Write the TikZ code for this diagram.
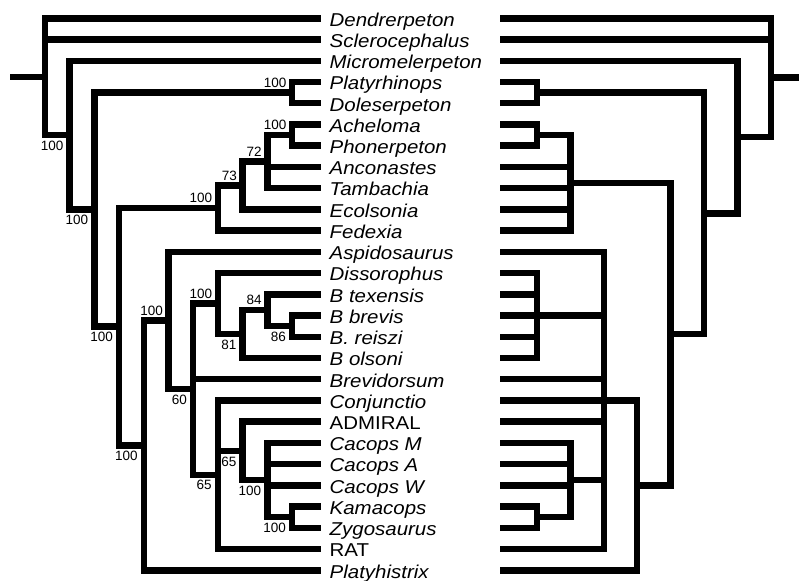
\documentclass[tikz,border=0pt]{standalone}
\usepackage{fontspec}
\setmainfont{Liberation Sans}
\newfontfamily\taxonfont{Liberation Sans}[FakeStretch=1.1]
\usetikzlibrary{positioning}
\tikzset{
  branch/.style={line width=6.5pt, black},
  taxon/.style={anchor=base west, inner sep=0pt, yshift=-7.8pt, font=\taxonfont\fontsize{18.6}{22}\selectfont\itshape},
  support/.style={inner sep=0pt, font=\fontsize{13.5}{15}\selectfont},
  sup_up/.style={support, above left=5pt and 5.5pt of #1},
  sup_down/.style={support, below left=5.5pt and 6pt of #1}
}

\begin{document}
\begin{tikzpicture}[x=1pt, y=-21.23pt]
  \path[use as bounding box, fill=white] (0,-0.862) rectangle (799,26.458);

  % --- Taxa, one row each ---
  \foreach \name [count=\i from 0] in {Dendrerpeton, Sclerocephalus, Micromelerpeton, Platyrhinops, Doleserpeton, Acheloma, Phonerpeton, Anconastes, Tambachia, Ecolsonia, Fedexia, Aspidosaurus, Dissorophus, B texensis, B brevis, B. reiszi, B olsoni, Brevidorsum, Conjunctio, {\upshape ADMIRAL}, Cacops M, Cacops A, Cacops W, Kamacops, Zygosaurus, {\upshape RAT}, Platyhistrix} {
    \node[taxon] (t\i) at (329.5,\i) {\name};
    \coordinate (lt\i) at (321,\i);
    \coordinate (rt\i) at (500,\i);
  }

  % --- Left tree: nodes ---
  \coordinate (lstub) at (10,2.753);
  \coordinate (n0) at (45,2.753);
  \coordinate (n1) at (69.7,5.507);
  \coordinate (n2) at (94.4,9.014);
  \coordinate (n3) at (292,3.5);
  \coordinate (n4) at (119.1,14.527);
  \coordinate (n5) at (217.9,8.9375);
  \coordinate (n6) at (242.6,7.875);
  \coordinate (n7) at (267.3,6.75);
  \coordinate (n8) at (292,5.5);
  \coordinate (n9) at (143.8,20.117);
  \coordinate (n10) at (168.5,14.234);
  \coordinate (n11) at (193.2,17.469);
  \coordinate (n12) at (217.9,13.4375);
  \coordinate (n13) at (242.6,14.875);
  \coordinate (n14) at (267.3,13.75);
  \coordinate (n15) at (292,14.5);
  \coordinate (n16) at (217.9,21.5);
  \coordinate (n17) at (242.6,20.375);
  \coordinate (n18) at (267.3,21.75);
  \coordinate (n19) at (292,23.5);

  % --- Left tree: branches ---
  \draw[branch] (lstub) -- (n0);
  \foreach \c in {lt0,lt1,n1} \draw[branch] (n0) |- (\c);
  \foreach \c in {lt2,n2} \draw[branch] (n1) |- (\c);
  \foreach \c in {n3,n4} \draw[branch] (n2) |- (\c);
  \foreach \c in {lt3,lt4} \draw[branch] (n3) |- (\c);
  \foreach \c in {n5,n9} \draw[branch] (n4) |- (\c);
  \foreach \c in {n6,lt10} \draw[branch] (n5) |- (\c);
  \foreach \c in {n7,lt9} \draw[branch] (n6) |- (\c);
  \foreach \c in {n8,lt7,lt8} \draw[branch] (n7) |- (\c);
  \foreach \c in {lt5,lt6} \draw[branch] (n8) |- (\c);
  \foreach \c in {n10,lt26} \draw[branch] (n9) |- (\c);
  \foreach \c in {lt11,n11} \draw[branch] (n10) |- (\c);
  \foreach \c in {n12,lt17,n16} \draw[branch] (n11) |- (\c);
  \foreach \c in {lt12,n13} \draw[branch] (n12) |- (\c);
  \foreach \c in {n14,lt16} \draw[branch] (n13) |- (\c);
  \foreach \c in {lt13,n15} \draw[branch] (n14) |- (\c);
  \foreach \c in {lt14,lt15} \draw[branch] (n15) |- (\c);
  \foreach \c in {lt18,n17,lt25} \draw[branch] (n16) |- (\c);
  \foreach \c in {lt19,n18} \draw[branch] (n17) |- (\c);
  \foreach \c in {lt20,lt21,lt22,n19} \draw[branch] (n18) |- (\c);
  \foreach \c in {lt23,lt24} \draw[branch] (n19) |- (\c);

  % --- Left tree: support values ---
  \node[sup_down=n1] (s1) {100};
  \node[sup_down=n2] (s2) {100};
  \node[sup_up=n3] (s3) {100};
  \node[sup_down=n4] (s4) {100};
  \node[sup_up=n5] (s5) {100};
  \node[sup_up=n6] (s6) {73};
  \node[sup_up=n7] (s7) {72};
  \node[sup_up=n8] (s8) {100};
  \node[sup_down=n9] (s9) {100};
  \node[sup_up=n10] (s10) {100};
  \node[sup_down=n11] (s11) {60};
  \node[sup_up=n12] (s12) {100};
  \node[sup_down=n13] (s13) {81};
  \node[sup_up=n14] (s14) {84};
  \node[sup_down=n15] (s15) {86};
  \node[sup_down=n16] (s16) {65};
  \node[sup_down=n17] (s17) {65};
  \node[sup_down=n18] (s18) {100};
  \node[sup_down=n19] (s19) {100};

  % --- Right tree: nodes ---
  \coordinate (rstub) at (799,2.797);
  \coordinate (m0) at (770.8,2.797);
  \coordinate (m1) at (737.4,5.594);
  \coordinate (m2) at (704,9.1875);
  \coordinate (m3) at (537,3.5);
  \coordinate (m4) at (670.6,14.875);
  \coordinate (m5) at (570.4,7.75);
  \coordinate (m6) at (537,5.5);
  \coordinate (m7) at (637.2,22);
  \coordinate (m8) at (603.8,18);
  \coordinate (m9) at (537,14);
  \coordinate (m10) at (570.4,21.75);
  \coordinate (m11) at (537,23.5);

  % --- Right tree: branches ---
  \draw[branch] (rstub) -- (m0);
  \foreach \c in {rt0,rt1,m1} \draw[branch] (m0) |- (\c);
  \foreach \c in {rt2,m2} \draw[branch] (m1) |- (\c);
  \foreach \c in {m3,m4} \draw[branch] (m2) |- (\c);
  \foreach \c in {rt3,rt4} \draw[branch] (m3) |- (\c);
  \foreach \c in {m5,m7} \draw[branch] (m4) |- (\c);
  \foreach \c in {m6,rt7,rt8,rt9,rt10} \draw[branch] (m5) |- (\c);
  \foreach \c in {rt5,rt6} \draw[branch] (m6) |- (\c);
  \foreach \c in {m8,rt26} \draw[branch] (m7) |- (\c);
  \foreach \c in {rt11,m9,rt17,rt19,m10,rt25} \draw[branch] (m8) |- (\c);
  \draw[branch] (m8) -- (rt18);
  \foreach \c in {rt12,rt13,rt15,rt16} \draw[branch] (m9) |- (\c);
  \draw[branch] (m9) -- (rt14);
  \foreach \c in {rt20,rt21,rt22,m11} \draw[branch] (m10) |- (\c);
  \foreach \c in {rt23,rt24} \draw[branch] (m11) |- (\c);
\end{tikzpicture}
\end{document}
